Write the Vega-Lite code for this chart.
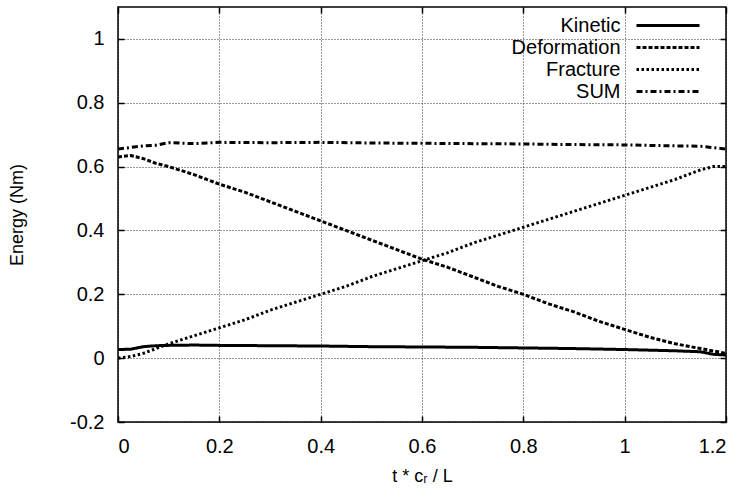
{
  "$schema": "https://vega.github.io/schema/vega-lite/v6.json",
  "width": 608,
  "height": 415,
  "autosize": "none",
  "padding": {"left": 118, "top": 7, "right": 22, "bottom": 73},
  "background": "white",
  "config": {
    "font": "Liberation Sans",
    "view": {"stroke": "#000", "strokeWidth": 1.5},
    "axis": {
      "labelFont": "Liberation Sans",
      "titleFont": "Liberation Sans",
      "labelFontSize": 20,
      "titleFontSize": 18,
      "labelColor": "#000",
      "titleColor": "#000",
      "titleFontWeight": "normal",
      "domainColor": "#000",
      "tickColor": "#000",
      "tickWidth": 1.5,
      "gridColor": "#000",
      "gridDash": [1, 2],
      "gridOpacity": 0.8,
      "gridWidth": 1
    }
  },
  "data": {
    "values": [
      {"t": 0, "E": 0.027, "s": "Kinetic"},
      {"t": 0.025, "E": 0.028, "s": "Kinetic"},
      {"t": 0.05, "E": 0.036, "s": "Kinetic"},
      {"t": 0.075, "E": 0.039, "s": "Kinetic"},
      {"t": 0.1, "E": 0.04, "s": "Kinetic"},
      {"t": 0.15, "E": 0.041, "s": "Kinetic"},
      {"t": 0.2, "E": 0.04, "s": "Kinetic"},
      {"t": 0.3, "E": 0.039, "s": "Kinetic"},
      {"t": 0.4, "E": 0.038, "s": "Kinetic"},
      {"t": 0.5, "E": 0.036, "s": "Kinetic"},
      {"t": 0.6, "E": 0.035, "s": "Kinetic"},
      {"t": 0.7, "E": 0.034, "s": "Kinetic"},
      {"t": 0.8, "E": 0.032, "s": "Kinetic"},
      {"t": 0.9, "E": 0.03, "s": "Kinetic"},
      {"t": 1.0, "E": 0.027, "s": "Kinetic"},
      {"t": 1.1, "E": 0.023, "s": "Kinetic"},
      {"t": 1.15, "E": 0.02, "s": "Kinetic"},
      {"t": 1.175, "E": 0.012, "s": "Kinetic"},
      {"t": 1.2, "E": 0.01, "s": "Kinetic"},

      {"t": 0, "E": 0.63, "s": "Deformation"},
      {"t": 0.025, "E": 0.635, "s": "Deformation"},
      {"t": 0.05, "E": 0.625, "s": "Deformation"},
      {"t": 0.075, "E": 0.61, "s": "Deformation"},
      {"t": 0.1, "E": 0.6, "s": "Deformation"},
      {"t": 0.15, "E": 0.575, "s": "Deformation"},
      {"t": 0.2, "E": 0.545, "s": "Deformation"},
      {"t": 0.25, "E": 0.52, "s": "Deformation"},
      {"t": 0.3, "E": 0.49, "s": "Deformation"},
      {"t": 0.35, "E": 0.46, "s": "Deformation"},
      {"t": 0.4, "E": 0.43, "s": "Deformation"},
      {"t": 0.45, "E": 0.4, "s": "Deformation"},
      {"t": 0.5, "E": 0.37, "s": "Deformation"},
      {"t": 0.55, "E": 0.34, "s": "Deformation"},
      {"t": 0.6, "E": 0.31, "s": "Deformation"},
      {"t": 0.65, "E": 0.285, "s": "Deformation"},
      {"t": 0.7, "E": 0.255, "s": "Deformation"},
      {"t": 0.75, "E": 0.225, "s": "Deformation"},
      {"t": 0.8, "E": 0.2, "s": "Deformation"},
      {"t": 0.85, "E": 0.17, "s": "Deformation"},
      {"t": 0.9, "E": 0.145, "s": "Deformation"},
      {"t": 0.95, "E": 0.115, "s": "Deformation"},
      {"t": 1.0, "E": 0.09, "s": "Deformation"},
      {"t": 1.05, "E": 0.065, "s": "Deformation"},
      {"t": 1.1, "E": 0.045, "s": "Deformation"},
      {"t": 1.15, "E": 0.03, "s": "Deformation"},
      {"t": 1.2, "E": 0.015, "s": "Deformation"},

      {"t": 0, "E": 0.0, "s": "Fracture"},
      {"t": 0.025, "E": 0.005, "s": "Fracture"},
      {"t": 0.05, "E": 0.015, "s": "Fracture"},
      {"t": 0.075, "E": 0.03, "s": "Fracture"},
      {"t": 0.1, "E": 0.045, "s": "Fracture"},
      {"t": 0.15, "E": 0.07, "s": "Fracture"},
      {"t": 0.2, "E": 0.095, "s": "Fracture"},
      {"t": 0.25, "E": 0.12, "s": "Fracture"},
      {"t": 0.3, "E": 0.15, "s": "Fracture"},
      {"t": 0.35, "E": 0.175, "s": "Fracture"},
      {"t": 0.4, "E": 0.2, "s": "Fracture"},
      {"t": 0.45, "E": 0.225, "s": "Fracture"},
      {"t": 0.5, "E": 0.255, "s": "Fracture"},
      {"t": 0.55, "E": 0.28, "s": "Fracture"},
      {"t": 0.6, "E": 0.305, "s": "Fracture"},
      {"t": 0.65, "E": 0.33, "s": "Fracture"},
      {"t": 0.7, "E": 0.36, "s": "Fracture"},
      {"t": 0.75, "E": 0.385, "s": "Fracture"},
      {"t": 0.8, "E": 0.41, "s": "Fracture"},
      {"t": 0.85, "E": 0.435, "s": "Fracture"},
      {"t": 0.9, "E": 0.46, "s": "Fracture"},
      {"t": 0.95, "E": 0.485, "s": "Fracture"},
      {"t": 1.0, "E": 0.51, "s": "Fracture"},
      {"t": 1.05, "E": 0.535, "s": "Fracture"},
      {"t": 1.1, "E": 0.56, "s": "Fracture"},
      {"t": 1.15, "E": 0.59, "s": "Fracture"},
      {"t": 1.175, "E": 0.6, "s": "Fracture"},
      {"t": 1.2, "E": 0.6, "s": "Fracture"},

      {"t": 0, "E": 0.655, "s": "SUM"},
      {"t": 0.025, "E": 0.66, "s": "SUM"},
      {"t": 0.05, "E": 0.665, "s": "SUM"},
      {"t": 0.075, "E": 0.667, "s": "SUM"},
      {"t": 0.1, "E": 0.675, "s": "SUM"},
      {"t": 0.15, "E": 0.672, "s": "SUM"},
      {"t": 0.2, "E": 0.676, "s": "SUM"},
      {"t": 0.3, "E": 0.675, "s": "SUM"},
      {"t": 0.4, "E": 0.676, "s": "SUM"},
      {"t": 0.5, "E": 0.674, "s": "SUM"},
      {"t": 0.6, "E": 0.673, "s": "SUM"},
      {"t": 0.7, "E": 0.672, "s": "SUM"},
      {"t": 0.8, "E": 0.671, "s": "SUM"},
      {"t": 0.9, "E": 0.669, "s": "SUM"},
      {"t": 1.0, "E": 0.668, "s": "SUM"},
      {"t": 1.1, "E": 0.665, "s": "SUM"},
      {"t": 1.15, "E": 0.664, "s": "SUM"},
      {"t": 1.2, "E": 0.655, "s": "SUM"}
    ]
  },
  "layer": [
    {
      "mark": {"type": "line", "color": "#000", "strokeWidth": 3, "clip": true},
      "encoding": {
        "x": {
          "field": "t", "type": "quantitative",
          "scale": {"domain": [0, 1.2], "nice": false},
          "axis": {"title": "t * cᵣ / L", "values": [0, 0.2, 0.4, 0.6, 0.8, 1, 1.2], "labelExpr": "replace(format(datum.value, '~g'), '−', '-')", "tickSize": -6, "labelPadding": 20, "titlePadding": 11, "domain": false}
        },
        "y": {
          "field": "E", "type": "quantitative",
          "scale": {"domain": [-0.2, 1.1], "nice": false},
          "axis": {"title": "Energy (Nm)", "values": [-0.2, 0, 0.2, 0.4, 0.6, 0.8, 1], "labelExpr": "replace(format(datum.value, '~g'), '−', '-')", "tickSize": -6, "labelPadding": 20, "titlePadding": 43, "domain": false}
        },
        "strokeDash": {
          "field": "s", "type": "nominal",
          "scale": {"domain": ["Kinetic", "Deformation", "Fracture", "SUM"], "range": [[1, 0], [4, 2], [2.5, 2.5], [6, 3, 2, 3]]},
          "legend": {
            "title": null,
            "orient": "none",
            "legendX": 480,
            "legendY": 7,
            "symbolType": "M-3.15,0H3.15",
            "symbolSize": 400,
            "symbolStrokeWidth": 3,
            "symbolStrokeColor": "#000",
            "symbolFillColor": "transparent",
            "symbolOffset": 58.5,
            "labelAlign": "right",
            "labelOffset": -59,
            "labelFontSize": 20,
            "labelFont": "Liberation Sans",
            "labelColor": "#000",
            "rowPadding": 0,
            "padding": 0
          }
        },
        "detail": {"field": "s"}
      }
    },
    {
      "mark": {"type": "line", "strokeOpacity": 0},
      "encoding": {
        "x": {
          "field": "t", "type": "quantitative",
          "axis": {"orient": "top", "title": null, "labels": false, "grid": false, "domain": false, "values": [0, 0.2, 0.4, 0.6, 0.8, 1, 1.2], "tickSize": -6}
        },
        "y": {
          "field": "E", "type": "quantitative",
          "axis": {"orient": "right", "title": null, "labels": false, "grid": false, "domain": false, "values": [-0.2, 0, 0.2, 0.4, 0.6, 0.8, 1], "tickSize": -6}
        },
        "detail": {"field": "s"}
      }
    }
  ],
  "resolve": {"axis": {"x": "independent", "y": "independent"}}
}
